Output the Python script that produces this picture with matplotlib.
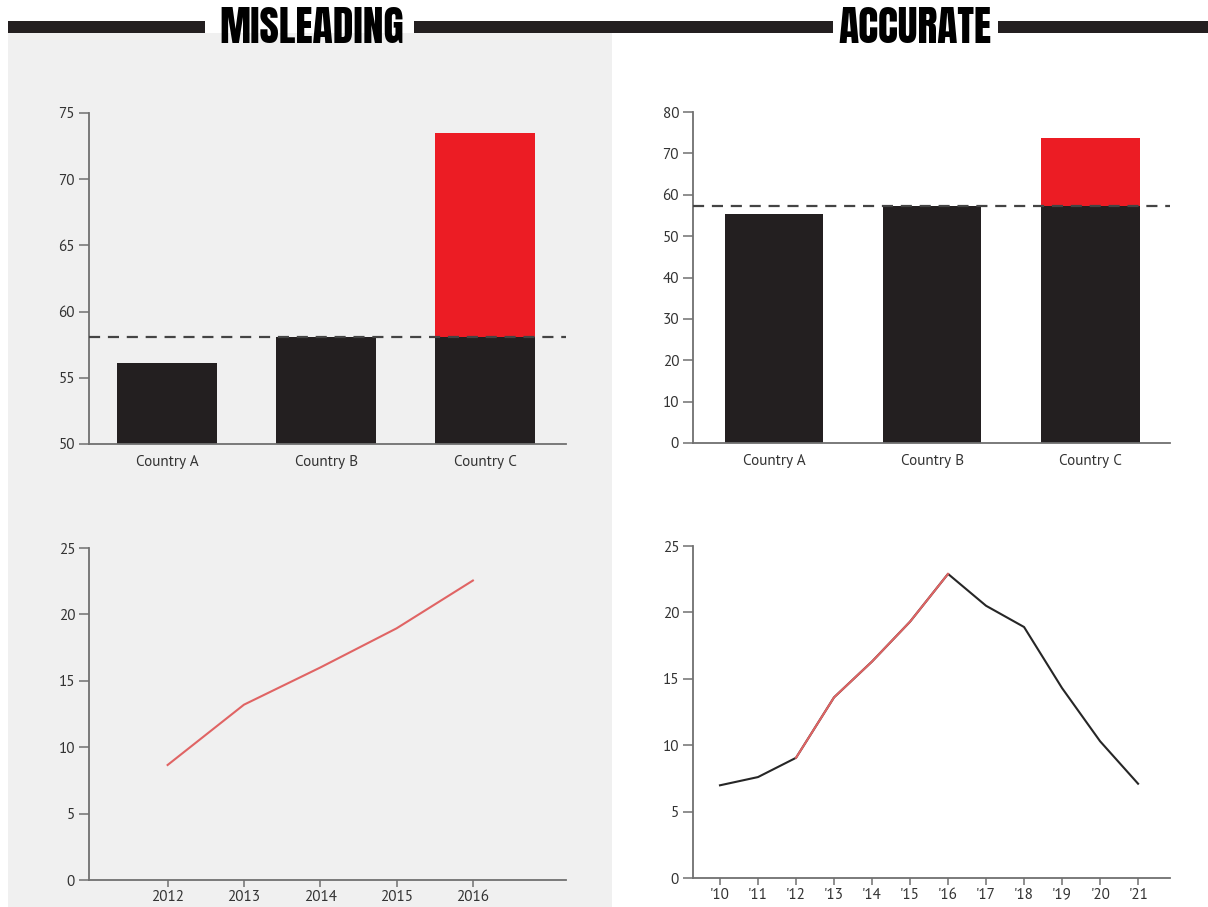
import matplotlib
matplotlib.use("Agg")
import matplotlib.pyplot as plt
from matplotlib.patches import Rectangle
import numpy as np

plt.rcParams['font.family'] = ['PT Sans', 'Open Sans', 'DejaVu Sans']

# ---------------- data ----------------
countries = ["Country A", "Country B", "Country C"]
mis_bar_values = [56.1, 58.1, 73.5]
acc_bar_values = [55.3, 57.3, 73.6]
mis_avg = 58.1
acc_avg = 57.3
mis_bar_yticks = [50, 55, 60, 65, 70, 75]
acc_bar_yticks = [0, 10, 20, 30, 40, 50, 60, 70, 80]

mis_years = [2012, 2013, 2014, 2015, 2016]
mis_values = [8.66, 13.2, 16.0, 18.95, 22.55]

acc_years = [10, 11, 12, 13, 14, 15, 16, 17, 18, 19, 20, 21]
acc_labels = ["'10", "'11", "'12", "'13", "'14", "'15", "'16", "'17", "'18", "'19", "'20", "'21"]
acc_values = [6.98, 7.6, 9.05, 13.6, 16.3, 19.3, 22.9, 20.5, 18.9, 14.3, 10.3, 7.1]
highlight_start, highlight_end = 12, 16
line_yticks = [0, 5, 10, 15, 20, 25]

titles = ["MISLEADING", "ACCURATE"]

# ---------------- style ----------------
BLACK = "#231f20"
RED = "#ec1c24"
LINE_RED = "#e06464"
SPINE = "#707070"
TXT = "#333333"
PANEL = "#f0f0f0"
FS = 11

W, H = 1208, 907
fig = plt.figure(figsize=(W / 100, H / 100), dpi=100)
fig.patch.set_facecolor("white")

def fx(px):
    return px / W

def fy(py):
    return 1 - py / H

# grey panel behind the misleading half
fig.add_artist(Rectangle((fx(8), 0), fx(612) - fx(8), fy(33), transform=fig.transFigure,
                         facecolor=PANEL, edgecolor="none", zorder=0))

# header bars
for x0, x1 in [(8, 205), (414, 833), (998, 1208)]:
    fig.add_artist(Rectangle((fx(x0), fy(33)), fx(x1) - fx(x0), fy(21) - fy(33),
                             transform=fig.transFigure, facecolor=BLACK, edgecolor="none", zorder=1))
for t, cx in zip(titles, [312, 915]):
    fig.text(fx(cx), fy(43), t, ha="center", va="baseline", fontsize=30,
             family=["Anton", "DejaVu Sans"], color="black", zorder=2)


def make_ax(x0, x1, ytop, ybot):
    ax = fig.add_axes([fx(x0), fy(ybot), fx(x1) - fx(x0), fy(ytop) - fy(ybot)])
    ax.set_facecolor("none")
    for s in ["top", "right"]:
        ax.spines[s].set_visible(False)
    for s in ["left", "bottom"]:
        ax.spines[s].set_color(SPINE)
        ax.spines[s].set_linewidth(1.3)
    ax.tick_params(axis="y", direction="out", length=7, width=1.1, color=SPINE,
                   labelsize=FS, labelcolor=TXT, pad=3)
    ax.tick_params(axis="x", direction="out", length=5, width=1.1, color=SPINE,
                   labelsize=FS, labelcolor=TXT, pad=2)
    return ax


def bar_chart(ax, values, avg, yticks, xlim, width):
    x = np.arange(len(values))
    base = [min(v, avg) for v in values]
    ax.bar(x, base, width=width, color=BLACK, zorder=2)
    excess = [max(v - avg, 0) for v in values]
    ax.bar(x, excess, bottom=[avg if e > 0 else 0 for e in excess], width=width,
           color=RED, zorder=2)
    ax.axhline(avg, color="#444444", lw=1.6, ls=(0, (5, 3.5)), zorder=3)
    ax.set_xticks(x)
    ax.set_xticklabels(countries)
    ax.tick_params(axis="x", length=0, pad=8)
    ax.set_yticks(yticks)
    ax.set_ylim(yticks[0], yticks[-1])
    ax.set_xlim(*xlim)


# top-left: misleading bars
ax1 = make_ax(89, 566, 113, 444)
bar_chart(ax1, mis_bar_values, mis_avg, mis_bar_yticks, (-0.49, 2.508), 0.625)

# top-right: accurate bars
ax2 = make_ax(693, 1170, 112, 443)
bar_chart(ax2, acc_bar_values, acc_avg, acc_bar_yticks, (-0.512, 2.502), 0.62)

# bottom-left: misleading line
ax3 = make_ax(89, 566, 548, 880)
ax3.plot(mis_years, mis_values, color=LINE_RED, lw=1.5, zorder=3)
ax3.set_xlim(2010.97, 2017.22)
ax3.set_ylim(0, 25)
ax3.set_yticks(line_yticks)
ax3.set_xticks(mis_years)
ax3.set_xticklabels([str(y) for y in mis_years])

# bottom-right: accurate line
ax4 = make_ax(693, 1170, 546, 878)
ax4.plot(acc_years, acc_values, color="#262626", lw=1.5, zorder=3)
i0 = acc_years.index(highlight_start)
i1 = acc_years.index(highlight_end)
ax4.plot(acc_years[i0:i1 + 1], acc_values[i0:i1 + 1], color=LINE_RED, lw=1.5, zorder=4)
ax4.set_xlim(9.29, 21.84)
ax4.set_ylim(0, 25)
ax4.set_yticks(line_yticks)
ax4.set_xticks(acc_years)
ax4.set_xticklabels(acc_labels)

fig.savefig("out.png", dpi=100, facecolor=fig.get_facecolor())
